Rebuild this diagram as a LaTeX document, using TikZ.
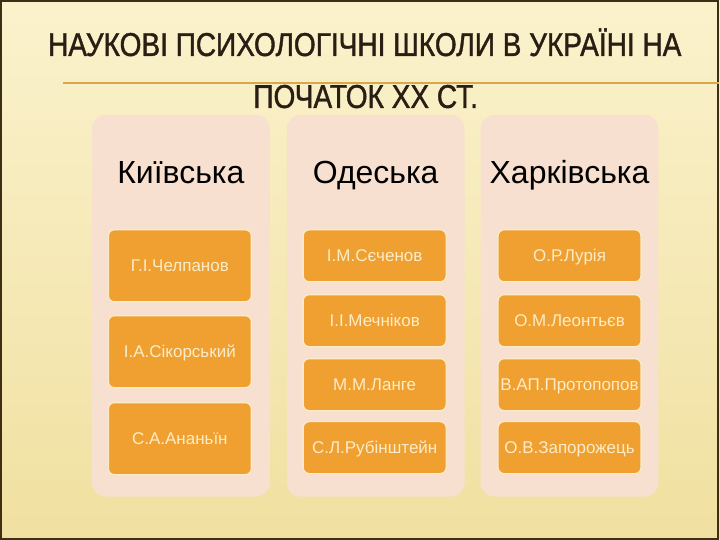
\documentclass[tikz,border=0pt]{standalone}
\usepackage{fontspec}
\setmainfont{Liberation Sans}
\newfontfamily\titlefont[FakeStretch=0.85,FakeBold=1.2]{Liberation Sans}
\usepackage{tikz}

\definecolor{paper}{RGB}{251,242,205}
\definecolor{paperlow}{RGB}{240,224,160}
\definecolor{peach}{RGB}{248,224,208}
\definecolor{amber}{RGB}{240,160,48}
\definecolor{cream}{RGB}{252,236,200}
\definecolor{ink}{RGB}{40,30,20}
\definecolor{gold}{RGB}{217,168,74}
\definecolor{rim}{RGB}{61,46,20}

\begin{document}
\begin{tikzpicture}[x=1pt, y=-1pt,
    heading/.style = {font=\titlefont\fontsize{33}{40}\selectfont, text=ink, text height=24pt, text depth=0pt},
    column/.style = {rectangle, rounded corners=14pt, fill=peach, minimum width=178pt, minimum height=382pt, inner sep=0pt},
    school/.style = {font=\fontsize{32}{38}\selectfont, text=black, text height=23pt, text depth=0pt},
    person/.style = {rectangle, rounded corners=6pt, draw=cream, line width=1.2pt, fill=amber, text=cream, font=\fontsize{17}{20}\selectfont, inner sep=0pt, text height=12pt, text depth=0pt},
    tall/.style = {person, minimum width=143pt, minimum height=72pt},
    short/.style = {person, minimum width=143pt, minimum height=52pt}]
    % page
    \fill[top color=paper, bottom color=paperlow] (0,0) rectangle (720,540);
    \draw[rim, line width=2pt] (1,1) rectangle (719,539);
    \draw[gold, line width=1.2pt] (63,83) -- (720,83);
    \node[heading] (title1) at (365,44) {НАУКОВІ ПСИХОЛОГІЧНІ ШКОЛИ В УКРАЇНІ НА};
    \node[heading] (title2) at (366,96) {ПОЧАТОК ХХ СТ.};

    % columns
    \node[column] (kyiv) at (181,306) {};
    \node[column] (odesa) at (376,306) {};
    \node[column] (kharkiv) at (570,306) {};
    \node[school] (kyivname) at (181,172) {Київська};
    \node[school] (odesaname) at (376,172) {Одеська};
    \node[school] (kharkivname) at (570,172) {Харківська};

    % Kyiv
    \node[tall] (k1) at (180,266) {Г.І.Челпанов};
    \node[tall] (k2) at (180,352) {І.А.Сікорський};
    \node[tall] (k3) at (180,439) {С.А.Ананьїн};

    % Odesa
    \node[short] (o1) at (375,256) {І.М.Сєченов};
    \node[short] (o2) at (375,321) {І.І.Мечніков};
    \node[short] (o3) at (375,385) {М.М.Ланге};
    \node[short] (o4) at (375,448) {С.Л.Рубінштейн};

    % Kharkiv
    \node[short] (h1) at (570,256) {О.Р.Лурія};
    \node[short] (h2) at (570,321) {О.М.Леонтьєв};
    \node[short] (h3) at (570,385) {В.АП.Протопопов};
    \node[short] (h4) at (570,448) {О.В.Запорожець};
\end{tikzpicture}
\end{document}
